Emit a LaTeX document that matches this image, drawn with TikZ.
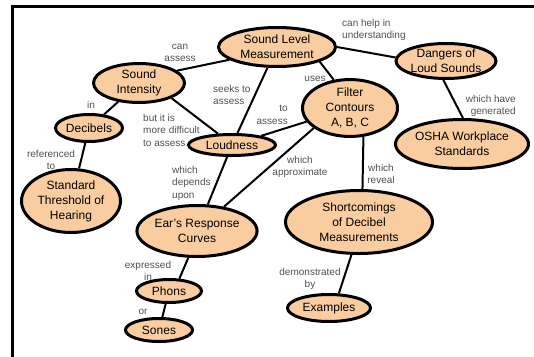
\documentclass[tikz,border=0pt]{standalone}
\usepackage{fontspec}
\setmainfont{Liberation Sans}
\usetikzlibrary{shapes.geometric}
\definecolor{peach}{RGB}{250,205,160}
\definecolor{lbl}{RGB}{80,80,80}
\begin{document}
\begin{tikzpicture}[x=1pt,y=-1pt,
  concept/.style={ellipse,draw=black,line width=3pt,fill=peach,inner sep=0pt,
    font=\fontsize{12}{15}\selectfont,align=center},
  lab/.style={text=lbl,font=\fontsize{10}{12.5}\selectfont,inner sep=0pt},
  link/.style={line width=2pt}]
\useasboundingbox (0,0) rectangle (534,356);
\draw[line width=3pt] (12,357) -- (12,6.5) -- (535,6.5);

\node[concept,minimum width=117pt,minimum height=39pt] (slm) at (277,47) {Sound Level\\Measurement};
\node[concept,minimum width=91pt,minimum height=39pt] (si) at (139,83) {Sound\\Intensity};
\node[concept,minimum width=67pt,minimum height=27pt] (db) at (89,128) {Decibels};
\node[concept,minimum width=87pt,minimum height=21pt] (loud) at (232,145) {Loudness};
\node[concept,minimum width=99pt,minimum height=63pt] (sth) at (71,201) {Standard\\Threshold of\\Hearing};
\node[concept,minimum width=117pt,minimum height=51pt] (ear) at (197,231) {Ear's Response\\Curves};
\node[concept,minimum width=65pt,minimum height=23pt] (phons) at (169,291) {Phons};
\node[concept,minimum width=67pt,minimum height=23pt] (sones) at (159,330) {Sones};
\node[concept,minimum width=95pt,minimum height=53pt] (filter) at (350,108) {Filter\\Contours\\A, B, C};
\node[concept,minimum width=97pt,minimum height=35pt] (danger) at (446,61) {Dangers of\\Loud Sounds};
\node[concept,minimum width=133pt,minimum height=49pt] (osha) at (462,144) {OSHA Workplace\\Standards};
\node[concept,minimum width=147pt,minimum height=63pt] (short) at (359,222) {Shortcomings\\of Decibel\\Measurements};
\node[concept,minimum width=83pt,minimum height=27pt] (ex) at (329,308) {Examples};

\draw[link] (slm.195) -- (si.18);
\draw[link] (slm) -- (loud);
\draw[link] (slm.-19) -- (filter.120);
\draw[link] (slm.0) -- (danger.176);
\draw[link] (si) -- (db);
\draw[link] (si.-25) -- (loud.141);
\draw[link] (db) -- (sth);
\draw[link] (filter) -- (loud);
\draw[link] (filter.209) -- (ear.42);
\draw[link] (filter.-65) -- (short.84);
\draw[link] (loud) -- (ear);
\draw[link] (danger.-98) -- (osha.88);
\draw[link] (ear.-108) -- (phons.50);
\draw[link] (phons) -- (sones);
\draw[link] (short.-103) -- (ex.56);

\node[lab,align=center] (l1) at (180,53) {can\\assess};
\node[lab] (l2) at (91,105) {in};
\node[lab,align=center] (l3) at (51,160) {referenced\\to};
\node[lab,align=left,anchor=west] (l4) at (143,130) {but it is\\more difficult\\to assess};
\node[lab,align=left,anchor=west] (l5) at (213,95) {seeks to\\assess};
\node[lab,align=right,anchor=east] (l6) at (288,115) {to\\assess};
\node[lab] (l7) at (315,79) {uses};
\node[lab,align=left,anchor=west] (l8) at (342,30) {can help in\\understanding};
\node[lab,align=right,anchor=east] (l9) at (516,106) {which have\\generated};
\node[lab,align=center] (l10) at (300,167) {which\\approximate};
\node[lab,align=center] (l11) at (381,174) {which\\reveal};
\node[lab,align=left,anchor=west] (l12) at (172,183) {which\\depends\\upon};
\node[lab,align=center] (l13) at (148,271) {expressed\\in};
\node[lab] (l14) at (143,312) {or};
\node[lab,align=center] (l15) at (310,279) {demonstrated\\by};
\end{tikzpicture}
\end{document}
